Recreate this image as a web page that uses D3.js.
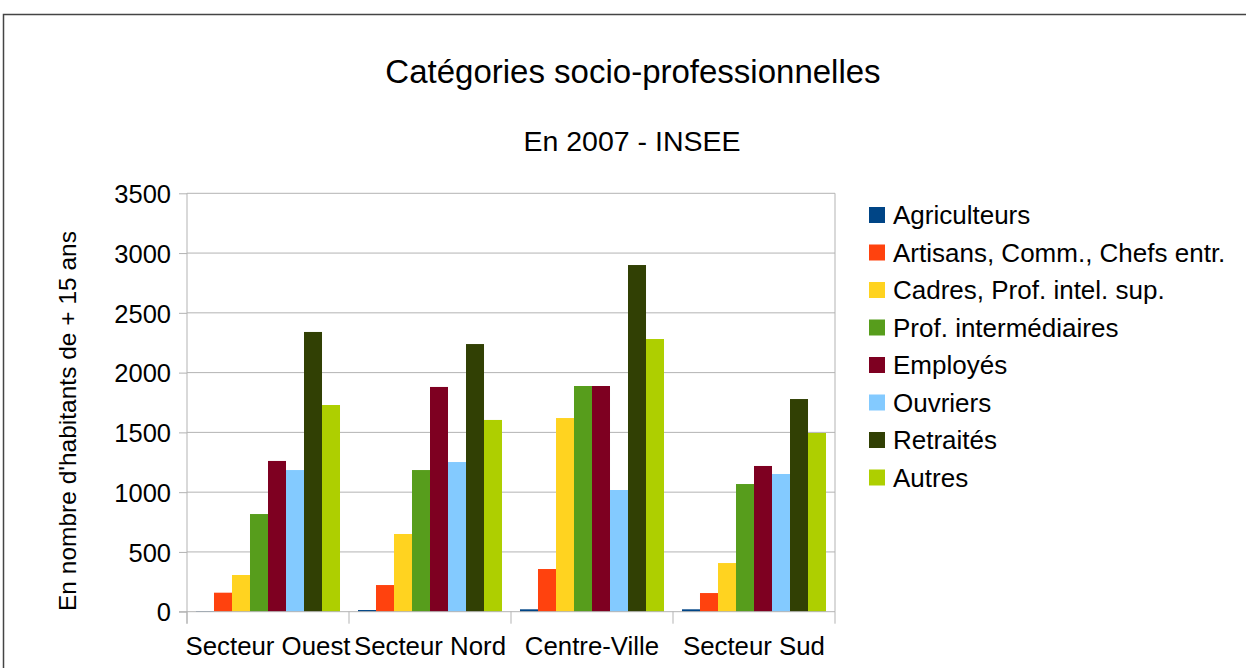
<!DOCTYPE html>
<html>
<head>
<meta charset="utf-8">
<script src="https://d3js.org/d3.v7.min.js"></script>
<style>
  body { margin: 0; background: #fff; }
  text { font-family: "Liberation Sans", Arial, sans-serif; fill: #000; }
</style>
</head>
<body>
<svg id="chart" width="1246" height="668"></svg>
<script>
    var sectors = ["Secteur Ouest", "Secteur Nord", "Centre-Ville", "Secteur Sud"]
    var categories = ["Agriculteurs", "Artisans, Comm., Chefs entr.", "Cadres, Prof. intel. sup.",
        "Prof. intermédiaires", "Employés", "Ouvriers", "Retraités", "Autres"]
    var colors = ["#004586", "#ff420e", "#ffd320", "#579d1c", "#7e0021", "#83caff", "#314004", "#aecf00"]

    // one array per category, values by sector (Ouest, Nord, Centre-Ville, Sud)
    var agriculteurs = [5, 14, 20, 20]
    var artisans = [159, 223, 357, 156]
    var cadres = [307, 650, 1620, 407]
    var profInter = [817, 1185, 1888, 1068]
    var employes = [1261, 1880, 1888, 1219]
    var ouvriers = [1185, 1252, 1018, 1152]
    var retraites = [2340, 2239, 2900, 1779]
    var autres = [1729, 1604, 2281, 1495]
    var series = [agriculteurs, artisans, cadres, profInter, employes, ouvriers, retraites, autres]

    var yTicks = [0, 500, 1000, 1500, 2000, 2500, 3000, 3500]

    var svg = d3.select("#chart")

    // outer frame
    svg.append("rect")
        .attr("x", 3.5).attr("y", 14.5)
        .attr("width", 1300).attr("height", 700)
        .attr("fill", "none").attr("stroke", "#444").attr("stroke-width", 1.5)

    var plotLeft = 187, plotRight = 835, plotTop = 193.3, plotBottom = 611.7

    var x0 = d3.scaleBand()
        .domain(sectors)
        .range([plotLeft, plotRight])
        .paddingInner(0.111)
        .paddingOuter(0.0555)
    var x1 = d3.scaleBand()
        .domain(categories)
        .range([0, x0.bandwidth()])
    var y = d3.scaleLinear()
        .domain([0, 3500])
        .range([plotBottom, plotTop])

    // gridlines
    svg.append("g").selectAll("line")
        .data(yTicks.slice(1))
        .enter().append("line")
        .attr("x1", plotLeft).attr("x2", plotRight)
        .attr("y1", d => y(d)).attr("y2", d => y(d))
        .attr("stroke", "#b3b3b3").attr("stroke-width", 1)

    // right border of plot area
    svg.append("line")
        .attr("x1", plotRight).attr("x2", plotRight)
        .attr("y1", plotTop).attr("y2", plotBottom)
        .attr("stroke", "#b3b3b3")

    // bars
    var groups = svg.append("g").selectAll("g")
        .data(sectors)
        .enter().append("g")
        .attr("transform", d => "translate(" + x0(d) + ",0)")

    groups.selectAll("rect")
        .data((s, si) => categories.map((c, ci) => ({cat: c, ci: ci, v: series[ci][si]})))
        .enter().append("rect")
        .attr("x", d => x1(d.cat))
        .attr("width", x1.bandwidth())
        .attr("y", d => y(d.v))
        .attr("height", d => y(0) - y(d.v))
        .attr("fill", d => colors[d.ci])

    // y axis
    var yAxis = d3.axisLeft(y).tickValues(yTicks).tickSize(8).tickPadding(8).tickFormat(d3.format("d"))
    var gy = svg.append("g").attr("transform", "translate(" + plotLeft + ",0)").call(yAxis)
    gy.select(".domain").attr("stroke", "#b3b3b3").attr("d", "M0," + plotTop + "V" + (plotBottom + 12))
    gy.selectAll(".tick line").attr("stroke", "#b3b3b3")
    gy.selectAll(".tick text").style("font-size", "25.5px").attr("dy", "0.36em")
        .style("font-family", "'Liberation Sans', Arial, sans-serif")

    // x axis
    svg.append("line")
        .attr("x1", plotLeft - 8).attr("x2", plotRight)
        .attr("y1", plotBottom).attr("y2", plotBottom)
        .attr("stroke", "#b3b3b3")
    var step = x0.step()
    var bounds = sectors.map(s => x0(s) - step * x0.paddingOuter()).concat([plotRight])
    svg.append("g").selectAll("line")
        .data(bounds)
        .enter().append("line")
        .attr("x1", d => d).attr("x2", d => d)
        .attr("y1", plotBottom).attr("y2", plotBottom + 12)
        .attr("stroke", "#b3b3b3")
    svg.append("g").selectAll("text")
        .data(sectors)
        .enter().append("text")
        .attr("x", d => x0(d) + x0.bandwidth() / 2)
        .attr("y", 655)
        .attr("text-anchor", "middle")
        .style("font-size", "25.8px")
        .text(d => d)

    // titles
    svg.append("text").attr("x", 633).attr("y", 83).attr("text-anchor", "middle")
        .style("font-size", "33px").text("Catégories socio-professionnelles")
    svg.append("text").attr("x", 632).attr("y", 151).attr("text-anchor", "middle")
        .style("font-size", "28.5px").text("En 2007 - INSEE")

    svg.append("text")
        .attr("transform", "translate(76,421) rotate(-90)")
        .attr("text-anchor", "middle")
        .style("font-size", "24.5px")
        .text("En nombre d'habitants de + 15 ans")

    // legend
    var legend = svg.append("g").selectAll("g")
        .data(categories)
        .enter().append("g")
        .attr("transform", (d, i) => "translate(869," + (215 + i * 37.5) + ")")
    legend.append("rect")
        .attr("x", 0).attr("y", -8)
        .attr("width", 16).attr("height", 16)
        .attr("fill", (d, i) => colors[i])
    legend.append("text")
        .attr("x", 24).attr("y", 9)
        .style("font-size", "26px")
        .text(d => d)
</script>
</body>
</html>
